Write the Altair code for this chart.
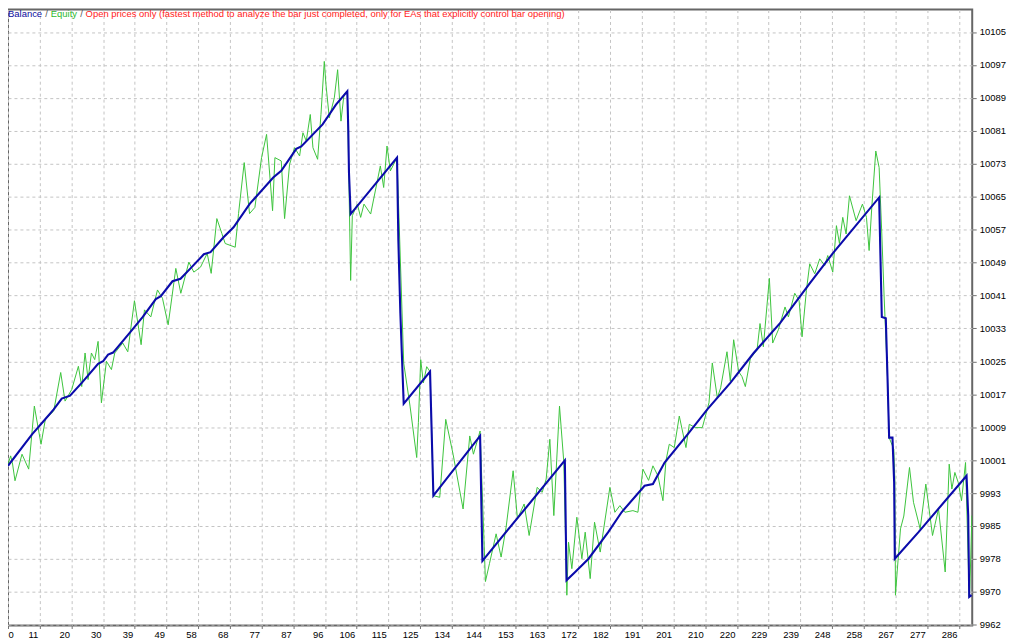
import altair as alt
import pandas as pd

# ---------------- data ----------------
balance_idx = [0, 7.2, 10.7, 13.7, 16.1, 18.6, 22.1, 27.0, 28.5, 30.0, 31.5, 36.4, 40.4, 44.3, 45.8,
               49.3, 51.7, 54.7, 58.7, 60.7, 64.6, 67.6, 72.5, 79.5, 81.9, 86.4, 87.9, 94.3, 98.3,
               101.7, 102.0, 102.2, 102.7, 116.6, 117.0, 117.6, 118.6, 126.5, 127.5, 141.5, 142.2,
               166.9, 167.4, 170.0, 174.0, 179.9, 183.9, 190.8, 193.3, 196.8, 203.7, 209.6, 216.5,
               223.5, 231.4, 240.3, 247.2, 261.1, 261.9, 263.1, 263.6, 264.1, 265.1, 265.6, 265.8,
               272.9, 287.3, 287.8, 288.1, 288.8]
balance_val = [10000.0, 10007.6, 10010.8, 10013.6, 10016.2, 10016.9, 10020.0, 10024.6, 10025.2,
               10026.8, 10027.3, 10032.0, 10035.9, 10040.2, 10040.9, 10044.5, 10045.1, 10047.6,
               10051.0, 10051.5, 10055.1, 10057.5, 10063.2, 10069.5, 10071.1, 10076.4, 10077.0,
               10082.3, 10087.1, 10090.3, 10080.7, 10070.7, 10060.7, 10074.3, 10054.3, 10036.8,
               10015.0, 10022.7, 9992.8, 10007.2, 9977.1, 10001.3, 9972.4, 9974.4, 9977.6, 9984.0,
               9988.8, 9995.2, 9995.6, 10000.8, 10007.6, 10013.6, 10020.0, 10027.2, 10034.4,
               10044.0, 10051.2, 10064.7, 10035.9, 10035.6, 10021.6, 10006.8, 10006.8, 9996.0,
               9977.6, 9984.0, 9997.6, 9988.0, 9968.4, 9968.8]

equity_idx = [0, 0.8, 1.3, 2.1, 4.2, 6.2, 7.9, 9.9, 11.2, 13.7, 15.8, 17.1, 19.1, 21.1, 22.1, 23.1,
              24.0, 25.0, 26.0, 27.0, 28.0, 29.5, 31.0, 32.0, 34.4, 35.9, 37.9, 39.9, 40.9, 42.8,
              44.8, 46.3, 48.0, 50.3, 51.8, 54.2, 55.7, 57.7, 59.7, 60.9, 62.6, 64.1, 65.1, 68.1,
              69.1, 70.8, 72.4, 74.0, 76.0, 77.5, 79.3, 80.0, 81.9, 82.9, 84.4, 85.9, 87.4, 88.4,
              89.4, 90.6, 91.4, 92.8, 93.8, 94.8, 95.3, 96.3, 97.8, 98.8, 99.8, 100.7, 101.7,
              102.2, 102.7, 103.2, 104.7, 105.7, 106.7, 108.7, 111.6, 112.6, 113.6, 114.6, 116.6,
              118.6, 120.5, 122.5, 123.0, 123.7, 124.5, 125.5, 126.5, 127.5, 129.4, 131.2, 133.4,
              136.4, 138.4, 139.5, 141.5, 143.1, 144.3, 146.3, 147.8, 149.3, 151.4, 152.7, 154.7,
              156.2, 158.6, 160.1, 161.3, 162.4, 163.6, 165.3, 166.6, 167.5, 168.0, 169.0, 170.5,
              172.0, 173.0, 174.5, 175.8, 177.5, 180.4, 181.9, 183.4, 184.9, 187.3, 188.8, 190.3,
              192.0, 193.3, 194.8, 196.3, 197.2, 198.2, 199.7, 201.2, 203.2, 204.2, 206.1, 208.1,
              210.1, 211.1, 212.6, 213.6, 215.5, 216.5, 217.5, 219.0, 220.0, 221.0, 222.5, 224.5,
              225.4, 226.4, 228.2, 229.2, 230.9, 232.9, 233.9, 235.8, 237.1, 238.0, 239.3, 240.3,
              241.8, 243.3, 244.8, 245.7, 247.2, 248.3, 249.2, 250.2, 251.2, 252.2, 254.2, 256.1,
              257.3, 258.1, 258.9, 260.1, 261.1, 261.9, 262.6, 263.6, 264.1, 265.5, 265.8, 266.0,
              266.5, 267.5, 268.5, 270.2, 271.4, 273.4, 275.1, 277.1, 278.9, 280.9, 282.1, 282.9,
              283.8, 284.8, 285.8, 287.0, 287.8, 288.1, 288.3, 288.9]
equity_val = [10000.4, 10002.4, 10000.8, 9996.4, 10002.8, 9999.2, 10014.4, 10005.2, 10011.2, 10013.2,
              10022.5, 10015.6, 10018.4, 10024.0, 10019.1, 10027.2, 10020.8, 10027.2, 10025.6,
              10030.0, 10015.2, 10025.2, 10023.2, 10027.2, 10029.6, 10027.5, 10039.8, 10029.2,
              10037.6, 10035.9, 10042.4, 10040.4, 10034.0, 10047.6, 10041.6, 10049.1, 10046.7,
              10047.9, 10051.2, 10046.4, 10059.6, 10056.0, 10053.6, 10052.7, 10060.8, 10073.1,
              10060.8, 10062.3, 10074.3, 10079.9, 10061.5, 10074.3, 10073.5, 10059.6, 10072.7,
              10076.7, 10074.7, 10080.3, 10078.3, 10084.7, 10076.7, 10073.9, 10084.7, 10097.5,
              10091.9, 10083.9, 10088.7, 10095.5, 10083.1, 10089.5, 10090.3, 10067.9, 10044.7,
              10060.3, 10063.1, 10059.9, 10063.1, 10060.7, 10072.3, 10067.1, 10077.1, 10071.1,
              10074.3, 10024.8, 10014.4, 10002.0, 10010.4, 10025.6, 10020.0, 10023.9, 10022.7,
              9992.8, 9992.4, 10011.2, 10002.8, 9989.6, 10007.2, 10002.8, 10008.4, 9972.1, 9976.4,
              9983.6, 9978.0, 9985.2, 9998.8, 9987.2, 9990.8, 9983.2, 9994.8, 9993.6, 9996.8,
              10006.4, 9988.0, 10014.4, 10000.8, 9968.8, 9981.6, 9975.2, 9987.6, 9977.6, 9984.0,
              9972.8, 9986.4, 9979.2, 9994.8, 9988.8, 9990.4, 9988.8, 9989.2, 9988.8, 9999.2,
              9996.5, 10000.0, 9997.6, 9991.6, 10001.2, 10005.2, 10004.4, 10012.0, 10004.4,
              10010.0, 10009.2, 10009.2, 10015.2, 10024.8, 10016.4, 10018.8, 10027.5, 10020.4,
              10030.4, 10022.7, 10021.5, 10019.1, 10025.9, 10027.9, 10034.3, 10028.7, 10045.2,
              10029.6, 10032.8, 10038.3, 10035.9, 10041.6, 10039.9, 10031.1, 10042.3, 10048.7,
              10046.3, 10049.9, 10048.3, 10050.7, 10046.7, 10057.9, 10053.6, 10059.9, 10055.9,
              10065.1, 10059.1, 10063.1, 10059.9, 10051.9, 10062.3, 10075.9, 10071.9, 10055.9,
              10040.7, 10021.6, 10006.8, 10004.0, 9996.8, 9968.8, 9974.4, 9984.8, 9987.9, 9999.6,
              9991.2, 9984.8, 9995.6, 9983.2, 9989.6, 9974.4, 10000.4, 9994.4, 9998.4, 9996.0,
              9991.6, 10000.8, 9977.6, 9968.4, 9970.4, 9988.0]

x_tick_labels = ["0", "11", "20", "30", "39", "49", "58", "68", "77", "87", "96", "106", "115",
                 "125", "134", "144", "153", "163", "172", "182", "191", "201", "210", "220",
                 "229", "239", "248", "258", "267", "277", "286"]
y_tick_labels = ["9962", "9970", "9978", "9985", "9993", "10001", "10009", "10017", "10025",
                 "10033", "10041", "10049", "10057", "10065", "10073", "10081", "10089", "10097",
                 "10105"]

title_parts = ["Balance", "/", "Equity", "/",
               "Open prices only (fastest method to analyze the bar just completed, only for EAs that explicitly control bar opening)"]

# ---------------- layout / style ----------------
FONT = "Liberation Sans"
W, H = 969, 619
X_DOMAIN = [0, 289]
Y_DOMAIN = [9961.5, 10110.0]
Y_BASE, Y_STEP = 9961.67, 7.94
X_STEP = 9.5
GRID = "#c4c4c4"

x_grid = [X_STEP * k for k in range(len(x_tick_labels))]
y_grid = [Y_BASE + Y_STEP * k for k in range(len(y_tick_labels))]

x_expr = "[" + ",".join(f"'{t}'" for t in x_tick_labels) + f"][round(datum.value / {X_STEP})]"
y_expr = "[" + ",".join(f"'{t}'" for t in y_tick_labels) + f"][round((datum.value - {Y_BASE}) / {Y_STEP})]"

bal = pd.DataFrame({"i": balance_idx, "v": balance_val})
eq = pd.DataFrame({"i": equity_idx, "v": equity_val})

xscale = alt.Scale(domain=X_DOMAIN, nice=False, zero=False)
yscale = alt.Scale(domain=Y_DOMAIN, nice=False, zero=False)

xaxis = alt.Axis(values=x_grid, labelExpr=x_expr, title=None, grid=True, gridColor=GRID,
                 gridDash=[3, 3], gridWidth=1, domain=False, ticks=True, tickSize=3,
                 tickColor="#707070", labelFont=FONT, labelFontSize=9.5, labelColor="#000000",
                 labelPadding=1, labelOverlap=False, labelFlush=False, labelBound=False,
                 labelAlign={"condition": {"test": "datum.value == 0", "value": "left"}, "value": "right"},
                 labelOffset={"condition": {"test": "datum.value == 0", "value": 0}, "value": -2})
yaxis = alt.Axis(values=y_grid, labelExpr=y_expr, title=None, orient="right", grid=True,
                 gridColor=GRID, gridDash=[3, 3], gridWidth=1, domain=False, ticks=True,
                 tickSize=4, tickColor="#707070", labelFont=FONT, labelFontSize=9.5,
                 labelColor="#000000", labelPadding=3, labelOverlap=False, labelFlush=False,
                 labelBound=False, labelBaseline="middle")

equity = alt.Chart(eq).mark_line(color="#3cc43c", strokeWidth=1, clip=True).encode(
    x=alt.X("i:Q", scale=xscale, axis=xaxis),
    y=alt.Y("v:Q", scale=yscale, axis=yaxis),
)
balance = alt.Chart(bal).mark_line(color="#0b0bab", strokeWidth=2.1, clip=True).encode(
    x=alt.X("i:Q", scale=xscale, axis=xaxis),
    y=alt.Y("v:Q", scale=yscale, axis=yaxis),
)

colors = ["#0a0a9c", "#555555", "#2cb82c", "#555555", "#ff1a1a"]
xpos = [0, 37.5, 43, 72.5, 78]
texts = []
for txt, col, xp in zip(title_parts, colors, xpos):
    texts.append(
        alt.Chart(pd.DataFrame({"t": [txt]})).mark_text(
            align="left", baseline="alphabetic", font=FONT, fontSize=9.5, color=col
        ).encode(x=alt.value(xp), y=alt.value(7.5), text="t:N")
    )

chart = alt.layer(equity, balance, *texts).properties(
    width=W, height=H,
    autosize=alt.AutoSizeParams(type="none"),
    padding={"left": 0, "top": 0, "right": 44, "bottom": 13},
    background="#ffffff",
).configure_view(stroke="#666666", strokeWidth=2).configure_axis(labelOverlap=False)

chart.save("out.html", embed_options={"renderer": "svg", "actions": False})
